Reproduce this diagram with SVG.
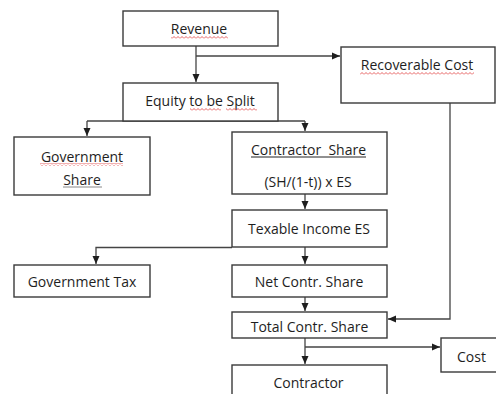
<svg xmlns="http://www.w3.org/2000/svg" width="496" height="394" viewBox="0 0 496 394">
<style>
  .box { fill: #ffffff; stroke: #3a3a3a; stroke-width: 1.4; }
  .t { font-family: "Open Sans", "Liberation Sans", sans-serif; font-size: 14px; fill: #1e1e1e; text-anchor: middle; }
  .c { fill: none; stroke: #444444; stroke-width: 1.3; }
  .ul { stroke: #222222; stroke-width: 1; }
</style>
<defs>
  <marker id="arr" markerUnits="userSpaceOnUse" markerWidth="10" markerHeight="10" refX="8" refY="4" orient="auto">
    <path d="M0,0.5 L8,4 L0,7.5 Z" fill="#1e1e1e"/>
  </marker>
  <pattern id="sq" width="4" height="3" patternUnits="userSpaceOnUse">
    <path d="M0,2.5 L2,0.5 L4,2.5" fill="none" stroke="#e03a3a" stroke-width="0.8"/>
  </pattern>
</defs>
<rect width="496" height="394" fill="#ffffff"/>

<g id="connectors">
  <path class="c" d="M196,46 V82" marker-end="url(#arr)"/>
  <path class="c" d="M196,56 H340" marker-end="url(#arr)"/>
  <path class="c" d="M196,111 V121"/>
  <path class="c" d="M87,121 H305"/>
  <path class="c" d="M87,121 V136" marker-end="url(#arr)"/>
  <path class="c" d="M305,121 V131" marker-end="url(#arr)"/>
  <path class="c" d="M305,187 V209" marker-end="url(#arr)"/>
  <path class="c" d="M305,238 V264" marker-end="url(#arr)"/>
  <path class="c" d="M232,247.5 H96 V264" marker-end="url(#arr)"/>
  <path class="c" d="M305,297 V311" marker-end="url(#arr)"/>
  <path class="c" d="M450,75 V319 H388" marker-end="url(#arr)"/>
  <path class="c" d="M305,338 V364" marker-end="url(#arr)"/>
  <path class="c" d="M305,347 H440" marker-end="url(#arr)"/>
</g>

<g id="revenue">
  <rect class="box" x="123" y="11" width="155" height="35"/>
  <text class="t" x="199" y="34">Revenue</text>
  <rect x="171" y="36" width="57" height="3" fill="url(#sq)"/>
</g>

<g id="recoverable-cost">
  <rect class="box" x="341" y="47" width="154" height="56"/>
  <text class="t" x="417" y="70">Recoverable Cost</text>
  <rect x="360" y="72" width="114" height="3" fill="url(#sq)"/>
</g>

<g id="equity">
  <rect class="box" x="123" y="83" width="155" height="38"/>
  <text class="t" x="200" y="106">Equity to be Split</text>
  <rect x="190" y="108" width="31" height="3" fill="url(#sq)"/>
  <rect x="226" y="108" width="31" height="3" fill="url(#sq)"/>
</g>

<g id="government-share">
  <rect class="box" x="14" y="137" width="136" height="58"/>
  <text class="t" x="82" y="162">Government</text>
  <rect x="40" y="163" width="83" height="3" fill="url(#sq)"/>
  <text class="t" x="82" y="185">Share</text>
  <line x1="63" y1="187" x2="102" y2="187" stroke="#888888" stroke-width="1"/>
</g>

<g id="contractor-share">
  <rect class="box" x="232" y="132" width="155" height="62"/>
  <text class="t" x="308.5" y="155" xml:space="preserve">Contractor  Share</text>
  <line class="ul" x1="251" y1="157" x2="366" y2="157"/>
  <text class="t" x="308" y="187">(SH/(1-t)) x ES</text>
</g>

<g id="taxable-income">
  <rect class="box" x="232" y="210" width="155" height="37"/>
  <text class="t" x="309" y="234">Texable Income ES</text>
</g>

<g id="government-tax">
  <rect class="box" x="14" y="265" width="136" height="32"/>
  <text class="t" x="82" y="287">Government Tax</text>
</g>

<g id="net-contr-share">
  <rect class="box" x="232" y="265" width="155" height="32"/>
  <text class="t" x="309" y="287">Net Contr. Share</text>
</g>

<g id="total-contr-share">
  <rect class="box" x="232" y="312" width="155" height="26"/>
  <text class="t" x="309.5" y="332">Total Contr. Share</text>
</g>

<g id="cost">
  <rect class="box" x="441" y="338" width="58" height="34"/>
  <text class="t" x="471.5" y="362">Cost</text>
</g>

<g id="contractor">
  <rect class="box" x="232" y="365" width="155" height="40"/>
  <text class="t" x="308.5" y="388">Contractor</text>
</g>
</svg>
